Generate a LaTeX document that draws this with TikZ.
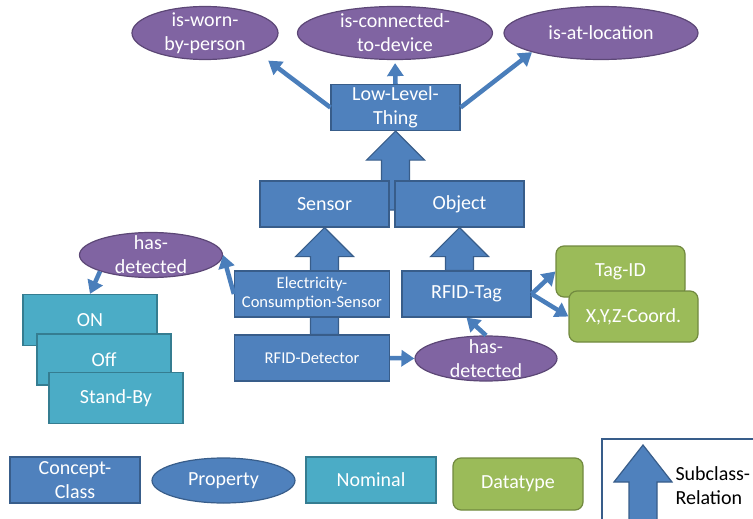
\documentclass[tikz,border=0pt]{standalone}
\usepackage{fontspec}
\setmainfont{Carlito}
\usetikzlibrary{positioning, arrows.meta, shapes, shapes.geometric, calc, backgrounds}

\definecolor{conceptblue}{HTML}{4F81BD}
\definecolor{conceptdark}{HTML}{385D8A}
\definecolor{propviolet}{HTML}{8064A2}
\definecolor{propdark}{HTML}{5C4776}
\definecolor{nominalcyan}{HTML}{4BACC6}
\definecolor{nominaldark}{HTML}{357D91}
\definecolor{datagreen}{HTML}{9BBB59}
\definecolor{datadark}{HTML}{71893F}
\definecolor{linkblue}{HTML}{4A7EBB}

\newcommand{\subrel}[3][29pt]{%
  \filldraw[subclass] let \p1=(#2), \p2=(#3) in
    (\x1,\y1) -- (\x1+29pt,\y1-#1) -- (\x1+14pt,\y1-#1) -- (\x1+14pt,\y2)
    -- (\x1-14pt,\y2) -- (\x1-14pt,\y1-#1) -- (\x1-29pt,\y1-#1) -- cycle;
}

\begin{document}
\begin{tikzpicture}[x=1pt, y=-1pt,
  concept/.style={draw=conceptdark, fill=conceptblue, line width=1.2pt, text=white, inner sep=0pt, align=center, minimum width=129pt, minimum height=46pt, font=\fontsize{20}{24}\selectfont},
  property/.style={ellipse, draw=propdark, fill=propviolet, line width=1.2pt, text=white, inner xsep=0pt, inner ysep=-8pt, align=center, minimum height=53pt, font=\fontsize{20}{24}\selectfont},
  nominal/.style={draw=nominaldark, fill=nominalcyan, line width=1.2pt, text=white, inner sep=0pt, minimum width=134pt, minimum height=51pt, font=\fontsize{20}{24}\selectfont},
  datatype/.style={rounded corners=8pt, draw=datadark, fill=datagreen, line width=1.2pt, text=white, inner sep=0pt, minimum width=129pt, minimum height=51pt, font=\fontsize{20}{24}\selectfont},
  link/.style={draw=linkblue, line width=4.5pt, -{Triangle[length=13pt,width=16pt]}},
  subclass/.style={fill=conceptblue, draw=conceptdark, line width=1.2pt}]
\useasboundingbox (0,0) rectangle (753,519);

\node[property, minimum width=146pt] (worn) at (205,33) {is-worn-\\by-person};
\node[property, minimum width=195pt] (connected) at (395,33) {is-connected-\\to-device};
\node[property, minimum width=194pt] (location) at (601,33) {is-at-location};
\node[concept] (llt) at (395.5,107.5) {Low-Level-\\Thing};

\node[concept] (sensor) at (324.5,204) {Sensor};
\node[concept] (object) at (459.5,204) {Object};
\node[concept, minimum width=155pt, font=\fontsize{16.5}{19}\selectfont] (elec) at (312,294) {Electricity-\\Consumption-Sensor};
\node[concept, minimum width=155pt, font=\fontsize{16.5}{19}\selectfont] (detector) at (312,358) {RFID-Detector};
\node[concept] (tag) at (466.5,294) {RFID-Tag};

\node[datatype] (tagid) at (620.5,271.5) {Tag-ID};
\node[datatype] (coord) at (633.5,316.5) {X,Y,Z-Coord.};

\node[property, minimum width=143pt, minimum height=45pt] (hasdetl) at (151,255) {has-\\detected};
\node[property, minimum width=142pt, minimum height=45pt] (hasdetr) at (486,358.5) {has-\\detected};

\node[nominal] (on) at (90,320) {ON};
\node[nominal] (off) at (104,359.5) {Off};
\node[nominal] (standby) at (116,398) {Stand-By};

\begin{scope}[on background layer]
\subrel{llt.south}{395.5,210}
\subrel{sensor.south}{sensor.south |- detector.north}
\subrel{object.south}{object.south |- tag.north}
\end{scope}

\draw[link, shorten >=14pt] (llt.west) -- (worn.south east);
\draw[link, shorten >=3pt] (llt.north) -- (connected.south);
\draw[link] (llt.east) -- (location.south west);
\draw[link] (elec.west) -- (hasdetl.east);
\draw[link] (hasdetl.south west) -- (on.north);
\draw[link] (detector.east) -- (hasdetr.west);
\draw[link] (hasdetr.north) -- (tag.south);
\draw[link] (tag.east) -- (tagid.west);
\draw[link] (tag.east) -- (coord.west);

\node[concept, minimum width=130pt] (lconcept) at (75,480) {Concept-\\Class};
\node[property, fill=conceptblue, draw=conceptdark, minimum width=143pt, minimum height=45pt] (lproperty) at (223.5,480.5) {Property};
\node[nominal, minimum width=130pt, minimum height=46pt] (lnominal) at (371,480) {Nominal};
\node[datatype, minimum width=130pt, minimum height=52pt] (ldatatype) at (518,484) {Datatype};

\draw[conceptdark, line width=1.2pt] (602,519) -- (602,439) -- (753,439);
\coordinate (legtip) at (643,445);
\coordinate (legtail) at (643,525);
\subrel[37pt]{legtip}{legtail}
\node[anchor=west, align=left, font=\fontsize{20}{24}\selectfont] (lsubclass) at (672,486) {Subclass-\\Relation};
\end{tikzpicture}
\end{document}
